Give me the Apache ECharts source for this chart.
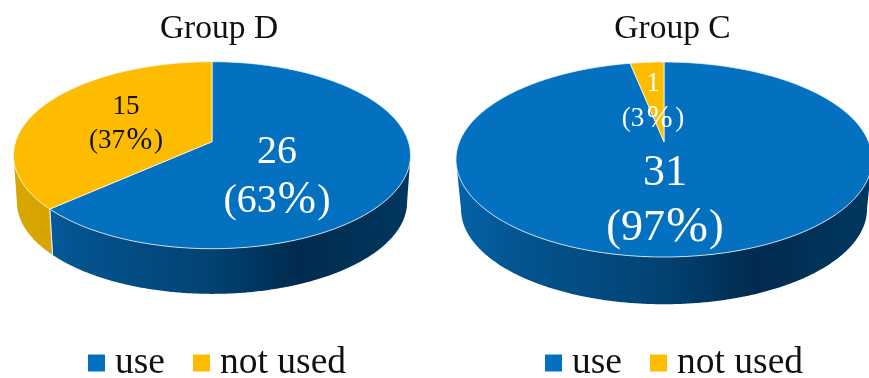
<!DOCTYPE html>
<html>
<head>
<meta charset="utf-8">
<style>html,body{margin:0;padding:0;background:#fff}#chart{width:869px;height:378px}</style>
<script src="https://cdn.jsdelivr.net/npm/echarts@6/dist/echarts.min.js"></script>
</head>
<body>
<div id="chart"></div>
<script>
// Slice categories and counts per group
const categories = ['use', 'not used'];
const groupTitles = ['Group D', 'Group C'];
const groupDCounts = [26, 15];
const groupCCounts = [31, 1];
const groupDPercents = ['63', '37'];
const groupCPercents = ['97', '3'];

const SERIF = '"Liberation Serif","Times New Roman",serif';
const sliceColors = ['#0370C0', '#FDBC00'];
const sideStops = [
  [[0, '#0462A8'], [0.15, '#03548F'], [0.5, '#024273'], [0.72, '#012B4E'], [1, '#01375F']],
  [[0, '#D9A500'], [1, '#C49500']]
];

// Perspective disc geometry: apex is the pie centre on screen, p the perspective
// strength, k and r the vertical and horizontal radii, s and d the extrusion.
const discs = [
  { cx: 212, cy: 141.7, p: 0.1444, k: 91.55, r: 196.4, s: 0.983, d: 47,
    labels: [
      { size: 40, x: 277, y1: 152, y2: 201, color: '#fff', gap: 1 },
      { size: 27, x: 126, y1: 107, y2: 141, color: '#111', gap: 1.5 }
    ] },
  { cx: 664, cy: 141.7, p: 0.1826, k: 94.25, r: 204.5, s: 0.976, d: 50,
    labels: [
      { size: 44, x: 665, y1: 173, y2: 228, color: '#fff', gap: 1 },
      { size: 27, x: 653, y1: 84, y2: 119, color: '#fff', gap: 2.5 }
    ] }
];

function topPoint(g, deg) {
  const t = deg * Math.PI / 180;
  const w = 1 + g.p * Math.cos(t);
  return [g.cx + g.r * Math.sin(t) / w, g.cy - g.k * Math.cos(t) / w];
}
function basePoint(g, deg) {
  const q = topPoint(g, deg);
  return [g.cx + (q[0] - g.cx) * g.s, g.cy + (q[1] - g.cy) * g.s + g.d];
}
function arc(fn, g, a, b) {
  const pts = [];
  const n = Math.max(2, Math.ceil(Math.abs(b - a) * 2));
  for (let i = 0; i <= n; i++) pts.push(fn(g, a + (b - a) * i / n));
  return pts;
}

// One pie slice: extruded rim, top face and a two-line value label
function sliceRenderer(g, counts, percents, idx) {
  const total = counts.reduce((a, b) => a + b, 0);
  const before = counts.slice(0, idx).reduce((a, b) => a + b, 0);
  // The rim's silhouette leaves the disc where the projected circle is widest
  const tangent = Math.acos(-g.p) * 180 / Math.PI;
  return function (params, api) {
    const start = before / total * 360;
    const end = start + api.value(0) / total * 360;
    const children = [];

    const a = Math.max(start, tangent), b = Math.min(end, 360 - tangent);
    if (b > a) {
      const pts = arc(topPoint, g, a, b).concat(arc(basePoint, g, b, a));
      children.push({
        type: 'polygon', z2: 1, shape: { points: pts },
        style: {
          fill: new echarts.graphic.LinearGradient(
            g.cx - g.r, 0, g.cx + g.r, 0,
            sideStops[idx].map(s => ({ offset: s[0], color: s[1] })), true)
        }
      });
      [start, end].forEach(e => {
        if (e > tangent && e < 360 - tangent) {
          const p = topPoint(g, e), q = basePoint(g, e);
          children.push({
            type: 'line', z2: 2,
            shape: { x1: p[0], y1: p[1], x2: q[0], y2: q[1] },
            style: { stroke: '#e8eef4', lineWidth: 0.8 }
          });
        }
      });
    }

    children.push({
      type: 'polygon', z2: 5,
      shape: { points: [[g.cx, g.cy]].concat(arc(topPoint, g, start, end)) },
      style: { fill: sliceColors[idx], stroke: '#f4f8fb', lineWidth: 0.8, lineJoin: 'round' }
    });

    const l = g.labels[idx];
    const base = { fontFamily: SERIF, fontSize: l.size, fill: l.color,
      align: 'center', verticalAlign: 'middle' };
    children.push({
      type: 'text', z2: 10, x: l.x, y: l.y1,
      style: Object.assign({ text: String(api.value(0)) }, base)
    });
    children.push({
      type: 'text', z2: 10, x: l.x, y: l.y2,
      style: Object.assign({
        text: '(' + percents[idx] + '{p|%})',
        rich: { p: { fontFamily: SERIF, fontSize: l.size * 1.15, fill: l.color, color: l.color,
          padding: [0, l.gap, 0, l.gap] } }
      }, base)
    });
    return { type: 'group', children };
  };
}

const groups = [
  { geom: discs[0], counts: groupDCounts, percents: groupDPercents },
  { geom: discs[1], counts: groupCCounts, percents: groupCPercents }
];
const series = [];
groups.forEach(gr => {
  gr.counts.forEach((v, i) => {
    series.push({
      type: 'custom',
      name: categories[i],
      coordinateSystem: 'none',
      silent: true,
      animation: false,
      itemStyle: { color: sliceColors[i] },
      renderItem: sliceRenderer(gr.geom, gr.counts, gr.percents, i),
      data: [[v]]
    });
  });
});

const legendBase = {
  data: categories,
  orient: 'horizontal',
  top: 344,
  padding: 0,
  itemWidth: 17,
  itemHeight: 17,
  itemGap: 28,
  icon: 'rect',
  selectedMode: false,
  textStyle: { fontFamily: SERIF, fontSize: 37.5, color: '#111', padding: [0, 0, 0, 5] }
};
const titleStyle = { fontFamily: SERIF, fontSize: 33.5, fontWeight: 'normal', color: '#111' };

const chart = echarts.init(document.getElementById('chart'), null, { renderer: 'canvas' });
chart.setOption({
  backgroundColor: '#fff',
  animation: false,
  title: [
    { text: groupTitles[0], left: 214, top: 7, textAlign: 'center', textStyle: titleStyle },
    { text: groupTitles[1], left: 667.5, top: 7, textAlign: 'center', textStyle: titleStyle }
  ],
  legend: [
    Object.assign({ left: 88 }, legendBase),
    Object.assign({ left: 545 }, legendBase)
  ],
  series
});
</script>
</body>
</html>
